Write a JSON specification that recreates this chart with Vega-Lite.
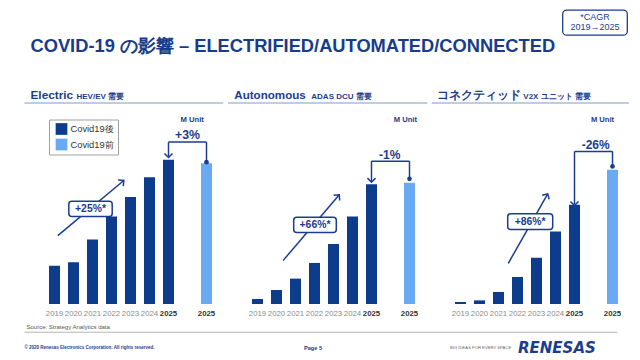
{
  "$schema": "https://vega.github.io/schema/vega-lite/v6.json",
  "background": "white",
  "padding": {"left": 23, "top": 9, "right": 0, "bottom": 0},
  "bounds": "flush",
  "spacing": 32,
  "resolve": {"scale": {"color": "independent"}},
  "config": {
    "view": {"stroke": null},
    "font": "Liberation Sans, Arial, sans-serif",
    "axis": {"gridColor": "#e6e6e6", "gridWidth": 1}
  },
  "hconcat": [
    {
      "width": 171,
      "height": 177,
      "resolve": {"scale": {"x": "independent"}},
      "layer": [
        {
          "data": {"values": [
            {"period": "2019", "series": "Covid19後", "value": 8.67},
            {"period": "2020", "series": "Covid19後", "value": 9.42},
            {"period": "2021", "series": "Covid19後", "value": 14.56},
            {"period": "2022", "series": "Covid19後", "value": 19.77},
            {"period": "2023", "series": "Covid19後", "value": 24.2},
            {"period": "2024", "series": "Covid19後", "value": 28.62},
            {"period": "2025", "series": "Covid19後", "value": 32.6},
            {"period": "2025 (Covid19前)", "series": "Covid19前", "value": 31.8}
          ]},
          "mark": {"type": "bar"},
          "encoding": {
            "x": {"field": "period", "type": "nominal",
              "scale": {"domain": ["2019","2020","2021","2022","2023","2024","2025","gap","2025 (Covid19前)"], "paddingInner": 0.42, "paddingOuter": 0.21},
              "axis": {"title": null, "domain": false, "ticks": false, "labelAngle": 0, "labelPadding": 5, "labelFontSize": 7.8, "labelOverlap": false,
                "labelExpr": "datum.value == 'gap' ? '' : (datum.value == '2025 (Covid19前)' ? '2025' : datum.value)",
                "labelColor": {"condition": {"test": "indexof(datum.value, '2025') == 0", "value": "#333333"}, "value": "#8c8c8c"},
                "labelFontWeight": {"condition": {"test": "indexof(datum.value, '2025') == 0", "value": "bold"}, "value": "normal"}}},
            "y": {"field": "value", "type": "quantitative", "scale": {"domain": [0, 40], "nice": false},
              "axis": {"title": null, "domain": false, "ticks": false, "values": [0, 10, 20, 30, 40], "labelPadding": 7, "labelFontSize": 8, "labelColor": "#9a9a9a",
                "labelExpr": "datum.value == 0 || datum.value == 40 ? datum.label : ''"}},
            "color": {"field": "series", "type": "nominal",
              "scale": {"domain": ["Covid19後", "Covid19前"], "range": ["#0d3c8c", "#6aaaf2"]},
              "legend": {"title": null, "orient": "none", "direction": "vertical", "legendX": 4, "legendY": -7.5,
                "symbolType": "square", "symbolSize": 137, "symbolStrokeWidth": 0, "symbolOffset": 3,
                "labelFontSize": 9.3, "labelColor": "#333333", "labelOffset": 3,
                "strokeColor": "#a0a0a0", "fillColor": "white", "padding": 3.5, "rowPadding": 3.5}}
          }
        },
        {
          "data": {"values": [{}]},
          "layer": [
            {"mark": {"type": "rule", "stroke": "#a9bdd8", "strokeWidth": 1.5},
             "encoding": {"x": {"datum": -1.079, "type": "quantitative", "scale": {"domain": [0, 9], "nice": false, "zero": false}, "axis": null}, "x2": {"datum": 9.379},
               "y": {"datum": 45.42, "type": "quantitative", "scale": {"domain": [0, 40], "nice": false}, "axis": null}}},
            {"mark": {"type": "text", "text": "Electric", "align": "left", "baseline": "alphabetic", "fontSize": 11.8, "fontWeight": "bold", "fill": "#1a3d8f"},
             "encoding": {"x": {"datum": -0.763, "type": "quantitative", "scale": {"domain": [0, 9], "nice": false, "zero": false}, "axis": null},
               "y": {"datum": 46.37, "type": "quantitative", "scale": {"domain": [0, 40], "nice": false}, "axis": null}}},
            {"mark": {"type": "text", "text": "HEV/EV 需要", "align": "left", "baseline": "alphabetic", "fontSize": 8, "fontWeight": "bold", "fill": "#1a3d8f"},
             "encoding": {"x": {"datum": 1.658, "type": "quantitative", "scale": {"domain": [0, 9], "nice": false, "zero": false}, "axis": null},
               "y": {"datum": 46.37, "type": "quantitative", "scale": {"domain": [0, 40], "nice": false}, "axis": null}}},
            {"mark": {"type": "text", "text": "M Unit", "align": "center", "baseline": "middle", "fontSize": 7.6, "fontWeight": "bold", "fill": "#1a3d8f"},
             "encoding": {"x": {"datum": 7.747, "type": "quantitative", "scale": {"domain": [0, 9], "nice": false, "zero": false}, "axis": null},
               "y": {"datum": 41.61, "type": "quantitative", "scale": {"domain": [0, 40], "nice": false}, "axis": null}}},
            {"mark": {"type": "rule", "stroke": "#1a3d8f", "strokeWidth": 1.5},
             "encoding": {"x": {"datum": 0.674, "type": "quantitative", "scale": {"domain": [0, 9], "nice": false, "zero": false}, "axis": null}, "x2": {"datum": 4.147},
               "y": {"datum": 15.46, "type": "quantitative", "scale": {"domain": [0, 40], "nice": false}, "axis": null}, "y2": {"datum": 27.92}}},
            {"mark": {"type": "point", "shape": "M-0.9,0.9L0,0L0.9,0.9", "filled": false, "stroke": "#1a3d8f", "strokeWidth": 1.5, "size": 80, "angle": 50, "opacity": 1},
             "encoding": {"x": {"datum": 4.147, "type": "quantitative", "scale": {"domain": [0, 9], "nice": false, "zero": false}, "axis": null},
               "y": {"datum": 27.92, "type": "quantitative", "scale": {"domain": [0, 40], "nice": false}, "axis": null}}},
            {"mark": {"type": "rect", "fill": "white", "stroke": "#1a3d8f", "strokeWidth": 1.5, "cornerRadius": 3},
             "encoding": {"x": {"datum": 1.253, "type": "quantitative", "scale": {"domain": [0, 9], "nice": false, "zero": false}, "axis": null}, "x2": {"datum": 3.537},
               "y": {"datum": 23.23, "type": "quantitative", "scale": {"domain": [0, 40], "nice": false}, "axis": null}, "y2": {"datum": 19.77}}},
            {"mark": {"type": "text", "text": "+25%*", "align": "center", "baseline": "middle", "fontSize": 10.4, "fontWeight": "bold", "fill": "#1a3d8f"},
             "encoding": {"x": {"datum": 2.395, "type": "quantitative", "scale": {"domain": [0, 9], "nice": false, "zero": false}, "axis": null},
               "y": {"datum": 21.51, "type": "quantitative", "scale": {"domain": [0, 40], "nice": false}, "axis": null}}},
            {"mark": {"type": "rule", "stroke": "#1a3d8f", "strokeWidth": 1.5},
             "encoding": {"x": {"datum": 6.5, "type": "quantitative", "scale": {"domain": [0, 9], "nice": false, "zero": false}, "axis": null}, "x2": {"datum": 8.5},
               "y": {"datum": 36.59, "type": "quantitative", "scale": {"domain": [0, 40], "nice": false}, "axis": null}}},
            {"mark": {"type": "rule", "stroke": "#1a3d8f", "strokeWidth": 1.5},
             "encoding": {"x": {"datum": 6.5, "type": "quantitative", "scale": {"domain": [0, 9], "nice": false, "zero": false}, "axis": null},
               "y": {"datum": 36.59, "type": "quantitative", "scale": {"domain": [0, 40], "nice": false}, "axis": null}, "y2": {"datum": 33.3}}},
            {"mark": {"type": "rule", "stroke": "#1a3d8f", "strokeWidth": 1.5},
             "encoding": {"x": {"datum": 8.5, "type": "quantitative", "scale": {"domain": [0, 9], "nice": false, "zero": false}, "axis": null},
               "y": {"datum": 36.59, "type": "quantitative", "scale": {"domain": [0, 40], "nice": false}, "axis": null}, "y2": {"datum": 32.06}}},
            {"mark": {"type": "point", "shape": "M-0.9,0.9L0,0L0.9,0.9", "filled": false, "stroke": "#1a3d8f", "strokeWidth": 1.5, "size": 80, "angle": 180, "opacity": 1},
             "encoding": {"x": {"datum": 6.5, "type": "quantitative", "scale": {"domain": [0, 9], "nice": false, "zero": false}, "axis": null},
               "y": {"datum": 33.12, "type": "quantitative", "scale": {"domain": [0, 40], "nice": false}, "axis": null}}},
            {"mark": {"type": "point", "shape": "circle", "filled": true, "fill": "#1a3d8f", "size": 22, "opacity": 1},
             "encoding": {"x": {"datum": 8.5, "type": "quantitative", "scale": {"domain": [0, 9], "nice": false, "zero": false}, "axis": null},
               "y": {"datum": 32.06, "type": "quantitative", "scale": {"domain": [0, 40], "nice": false}, "axis": null}}},
            {"mark": {"type": "text", "text": "+3%", "align": "center", "baseline": "middle", "fontSize": 12.3, "fontWeight": "bold", "fill": "#1a3d8f"},
             "encoding": {"x": {"datum": 7.5, "type": "quantitative", "scale": {"domain": [0, 9], "nice": false, "zero": false}, "axis": null},
               "y": {"datum": 38.1, "type": "quantitative", "scale": {"domain": [0, 40], "nice": false}, "axis": null}}},
            {"mark": {"type": "text", "text": "COVID-19 の影響 – ELECTRIFIED/AUTOMATED/CONNECTED", "align": "left", "baseline": "alphabetic", "fontSize": 18.3, "fontWeight": "bold", "fill": "#173c8c"},
             "encoding": {"x": {"datum": -0.763, "type": "quantitative", "scale": {"domain": [0, 9], "nice": false, "zero": false}, "axis": null},
               "y": {"datum": 56.96, "type": "quantitative", "scale": {"domain": [0, 40], "nice": false}, "axis": null}}},
            {"mark": {"type": "text", "text": "Source: Strategy Analytics data", "align": "left", "baseline": "middle", "fontSize": 6, "fill": "#555555"},
             "encoding": {"x": {"datum": -0.974, "type": "quantitative", "scale": {"domain": [0, 9], "nice": false, "zero": false}, "axis": null},
               "y": {"datum": -5.3, "type": "quantitative", "scale": {"domain": [0, 40], "nice": false}, "axis": null}}},
            {"mark": {"type": "rule", "stroke": "#b5b5b5", "strokeWidth": 1},
             "encoding": {"x": {"datum": -1.079, "type": "quantitative", "scale": {"domain": [0, 9], "nice": false, "zero": false}, "axis": null}, "x2": {"datum": 30.13},
               "y": {"datum": -6.38, "type": "quantitative", "scale": {"domain": [0, 40], "nice": false}, "axis": null}}},
            {"mark": {"type": "text", "text": "© 2020 Renesas Electronics Corporation. All rights reserved.", "align": "left", "baseline": "middle", "fontSize": 4.5, "fontWeight": "bold", "fill": "#1a3d8f"},
             "encoding": {"x": {"datum": -1.079, "type": "quantitative", "scale": {"domain": [0, 9], "nice": false, "zero": false}, "axis": null},
               "y": {"datum": -9.96, "type": "quantitative", "scale": {"domain": [0, 40], "nice": false}, "axis": null}}}
          ]
        }
      ]
    },
    {
      "width": 171,
      "height": 177,
      "resolve": {"scale": {"x": "independent"}},
      "layer": [
        {
          "data": {"values": [
            {"period": "2019", "series": "Covid19後", "value": 0.42},
            {"period": "2020", "series": "Covid19後", "value": 1.19},
            {"period": "2021", "series": "Covid19後", "value": 2.15},
            {"period": "2022", "series": "Covid19後", "value": 3.48},
            {"period": "2023", "series": "Covid19後", "value": 5.09},
            {"period": "2024", "series": "Covid19後", "value": 7.41},
            {"period": "2025", "series": "Covid19後", "value": 10.15},
            {"period": "2025 (Covid19前)", "series": "Covid19前", "value": 10.27}
          ]},
          "mark": {"type": "bar"},
          "encoding": {
            "x": {"field": "period", "type": "nominal",
              "scale": {"domain": ["2019","2020","2021","2022","2023","2024","2025","gap","2025 (Covid19前)"], "paddingInner": 0.42, "paddingOuter": 0.21},
              "axis": {"title": null, "domain": false, "ticks": false, "labelAngle": 0, "labelPadding": 5, "labelFontSize": 7.8, "labelOverlap": false,
                "labelExpr": "datum.value == 'gap' ? '' : (datum.value == '2025 (Covid19前)' ? '2025' : datum.value)",
                "labelColor": {"condition": {"test": "indexof(datum.value, '2025') == 0", "value": "#333333"}, "value": "#8c8c8c"},
                "labelFontWeight": {"condition": {"test": "indexof(datum.value, '2025') == 0", "value": "bold"}, "value": "normal"}}},
            "y": {"field": "value", "type": "quantitative", "scale": {"domain": [0, 15], "nice": false},
              "axis": {"title": null, "domain": false, "ticks": false, "values": [0, 5, 10, 15], "labelPadding": 7, "labelFontSize": 8, "labelColor": "#9a9a9a",
                "labelExpr": "datum.value == 0 || datum.value == 15 ? datum.label : ''"}},
            "color": {"field": "series", "type": "nominal",
              "scale": {"domain": ["Covid19後", "Covid19前"], "range": ["#0d3c8c", "#6aaaf2"]}, "legend": null}
          }
        },
        {
          "data": {"values": [{}]},
          "layer": [
            {"mark": {"type": "rule", "stroke": "#a9bdd8", "strokeWidth": 1.5},
             "encoding": {"x": {"datum": -1.053, "type": "quantitative", "scale": {"domain": [0, 9], "nice": false, "zero": false}, "axis": null}, "x2": {"datum": 9.437},
               "y": {"datum": 17.03, "type": "quantitative", "scale": {"domain": [0, 15], "nice": false}, "axis": null}}},
            {"mark": {"type": "text", "text": "Autonomous", "align": "left", "baseline": "alphabetic", "fontSize": 11.6, "fontWeight": "bold", "fill": "#1a3d8f"},
             "encoding": {"x": {"datum": -0.721, "type": "quantitative", "scale": {"domain": [0, 9], "nice": false, "zero": false}, "axis": null},
               "y": {"datum": 17.39, "type": "quantitative", "scale": {"domain": [0, 15], "nice": false}, "axis": null}}},
            {"mark": {"type": "text", "text": "ADAS DCU 需要", "align": "left", "baseline": "alphabetic", "fontSize": 8, "fontWeight": "bold", "fill": "#1a3d8f"},
             "encoding": {"x": {"datum": 3.332, "type": "quantitative", "scale": {"domain": [0, 9], "nice": false, "zero": false}, "axis": null},
               "y": {"datum": 17.39, "type": "quantitative", "scale": {"domain": [0, 15], "nice": false}, "axis": null}}},
            {"mark": {"type": "text", "text": "M Unit", "align": "center", "baseline": "middle", "fontSize": 7.6, "fontWeight": "bold", "fill": "#1a3d8f"},
             "encoding": {"x": {"datum": 8.279, "type": "quantitative", "scale": {"domain": [0, 9], "nice": false, "zero": false}, "axis": null},
               "y": {"datum": 15.61, "type": "quantitative", "scale": {"domain": [0, 15], "nice": false}, "axis": null}}},
            {"mark": {"type": "rule", "stroke": "#1a3d8f", "strokeWidth": 1.5},
             "encoding": {"x": {"datum": 1.842, "type": "quantitative", "scale": {"domain": [0, 9], "nice": false, "zero": false}, "axis": null}, "x2": {"datum": 4.805},
               "y": {"datum": 3.676, "type": "quantitative", "scale": {"domain": [0, 15], "nice": false}, "axis": null}, "y2": {"datum": 9.255}}},
            {"mark": {"type": "point", "shape": "M-0.9,0.9L0,0L0.9,0.9", "filled": false, "stroke": "#1a3d8f", "strokeWidth": 1.5, "size": 80, "angle": 41, "opacity": 1},
             "encoding": {"x": {"datum": 4.805, "type": "quantitative", "scale": {"domain": [0, 9], "nice": false, "zero": false}, "axis": null},
               "y": {"datum": 9.255, "type": "quantitative", "scale": {"domain": [0, 15], "nice": false}, "axis": null}}},
            {"mark": {"type": "rect", "fill": "white", "stroke": "#1a3d8f", "strokeWidth": 1.5, "cornerRadius": 3},
             "encoding": {"x": {"datum": 2.405, "type": "quantitative", "scale": {"domain": [0, 9], "nice": false, "zero": false}, "axis": null}, "x2": {"datum": 4.647},
               "y": {"datum": 7.353, "type": "quantitative", "scale": {"domain": [0, 15], "nice": false}, "axis": null}, "y2": {"datum": 6.054}}},
            {"mark": {"type": "text", "text": "+66%*", "align": "center", "baseline": "middle", "fontSize": 10.4, "fontWeight": "bold", "fill": "#1a3d8f"},
             "encoding": {"x": {"datum": 3.526, "type": "quantitative", "scale": {"domain": [0, 9], "nice": false, "zero": false}, "axis": null},
               "y": {"datum": 6.707, "type": "quantitative", "scale": {"domain": [0, 15], "nice": false}, "axis": null}}},
            {"mark": {"type": "rule", "stroke": "#1a3d8f", "strokeWidth": 1.5},
             "encoding": {"x": {"datum": 6.5, "type": "quantitative", "scale": {"domain": [0, 9], "nice": false, "zero": false}, "axis": null}, "x2": {"datum": 8.5},
               "y": {"datum": 12.107, "type": "quantitative", "scale": {"domain": [0, 15], "nice": false}, "axis": null}}},
            {"mark": {"type": "rule", "stroke": "#1a3d8f", "strokeWidth": 1.5},
             "encoding": {"x": {"datum": 6.5, "type": "quantitative", "scale": {"domain": [0, 9], "nice": false, "zero": false}, "axis": null},
               "y": {"datum": 12.107, "type": "quantitative", "scale": {"domain": [0, 15], "nice": false}, "axis": null}, "y2": {"datum": 10.4}}},
            {"mark": {"type": "rule", "stroke": "#1a3d8f", "strokeWidth": 1.5},
             "encoding": {"x": {"datum": 8.5, "type": "quantitative", "scale": {"domain": [0, 9], "nice": false, "zero": false}, "axis": null},
               "y": {"datum": 12.107, "type": "quantitative", "scale": {"domain": [0, 15], "nice": false}, "axis": null}, "y2": {"datum": 10.61}}},
            {"mark": {"type": "point", "shape": "M-0.9,0.9L0,0L0.9,0.9", "filled": false, "stroke": "#1a3d8f", "strokeWidth": 1.5, "size": 80, "angle": 180, "opacity": 1},
             "encoding": {"x": {"datum": 6.5, "type": "quantitative", "scale": {"domain": [0, 9], "nice": false, "zero": false}, "axis": null},
               "y": {"datum": 10.324, "type": "quantitative", "scale": {"domain": [0, 15], "nice": false}, "axis": null}}},
            {"mark": {"type": "point", "shape": "circle", "filled": true, "fill": "#1a3d8f", "size": 22, "opacity": 1},
             "encoding": {"x": {"datum": 8.5, "type": "quantitative", "scale": {"domain": [0, 9], "nice": false, "zero": false}, "axis": null},
               "y": {"datum": 10.61, "type": "quantitative", "scale": {"domain": [0, 15], "nice": false}, "axis": null}}},
            {"mark": {"type": "text", "text": "-1%", "align": "center", "baseline": "middle", "fontSize": 12, "fontWeight": "bold", "fill": "#1a3d8f"},
             "encoding": {"x": {"datum": 7.458, "type": "quantitative", "scale": {"domain": [0, 9], "nice": false, "zero": false}, "axis": null},
               "y": {"datum": 12.59, "type": "quantitative", "scale": {"domain": [0, 15], "nice": false}, "axis": null}}},
            {"mark": {"type": "text", "text": "Page 5", "align": "center", "baseline": "middle", "fontSize": 5.6, "fontWeight": "bold", "fill": "#1a3d8f"},
             "encoding": {"x": {"datum": 3.421, "type": "quantitative", "scale": {"domain": [0, 9], "nice": false, "zero": false}, "axis": null},
               "y": {"datum": -3.736, "type": "quantitative", "scale": {"domain": [0, 15], "nice": false}, "axis": null}}}
          ]
        }
      ]
    },
    {
      "width": 171,
      "height": 177,
      "resolve": {"scale": {"x": "independent"}},
      "layer": [
        {
          "data": {"values": [
            {"period": "2019", "series": "Covid19後", "value": 0.45},
            {"period": "2020", "series": "Covid19後", "value": 0.82},
            {"period": "2021", "series": "Covid19後", "value": 2.72},
            {"period": "2022", "series": "Covid19後", "value": 6.11},
            {"period": "2023", "series": "Covid19後", "value": 10.48},
            {"period": "2024", "series": "Covid19後", "value": 16.37},
            {"period": "2025", "series": "Covid19後", "value": 22.41},
            {"period": "2025 (Covid19前)", "series": "Covid19前", "value": 30.34}
          ]},
          "mark": {"type": "bar"},
          "encoding": {
            "x": {"field": "period", "type": "nominal",
              "scale": {"domain": ["2019","2020","2021","2022","2023","2024","2025","gap","2025 (Covid19前)"], "paddingInner": 0.42, "paddingOuter": 0.21},
              "axis": {"title": null, "domain": false, "ticks": false, "labelAngle": 0, "labelPadding": 5, "labelFontSize": 7.8, "labelOverlap": false,
                "labelExpr": "datum.value == 'gap' ? '' : (datum.value == '2025 (Covid19前)' ? '2025' : datum.value)",
                "labelColor": {"condition": {"test": "indexof(datum.value, '2025') == 0", "value": "#333333"}, "value": "#8c8c8c"},
                "labelFontWeight": {"condition": {"test": "indexof(datum.value, '2025') == 0", "value": "bold"}, "value": "normal"}}},
            "y": {"field": "value", "type": "quantitative", "scale": {"domain": [0, 40], "nice": false},
              "axis": {"title": null, "domain": false, "ticks": false, "values": [0, 10, 20, 30, 40], "labelPadding": 7, "labelFontSize": 8, "labelColor": "#9a9a9a",
                "labelExpr": "datum.value == 0 || datum.value == 40 ? datum.label : ''"}},
            "color": {"field": "series", "type": "nominal",
              "scale": {"domain": ["Covid19後", "Covid19前"], "range": ["#0d3c8c", "#6aaaf2"]}, "legend": null}
          }
        },
        {
          "data": {"values": [{}]},
          "layer": [
            {"mark": {"type": "rule", "stroke": "#a9bdd8", "strokeWidth": 1.5},
             "encoding": {"x": {"datum": -1.016, "type": "quantitative", "scale": {"domain": [0, 9], "nice": false, "zero": false}, "axis": null}, "x2": {"datum": 9.368},
               "y": {"datum": 45.42, "type": "quantitative", "scale": {"domain": [0, 40], "nice": false}, "axis": null}}},
            {"mark": {"type": "text", "text": "コネクティッド", "align": "left", "baseline": "alphabetic", "fontSize": 12, "fontWeight": "bold", "fill": "#1a3d8f"},
             "encoding": {"x": {"datum": -0.753, "type": "quantitative", "scale": {"domain": [0, 9], "nice": false, "zero": false}, "axis": null},
               "y": {"datum": 46.37, "type": "quantitative", "scale": {"domain": [0, 40], "nice": false}, "axis": null}}},
            {"mark": {"type": "text", "text": "V2X ユニット 需要", "align": "left", "baseline": "alphabetic", "fontSize": 8, "fontWeight": "bold", "fill": "#1a3d8f"},
             "encoding": {"x": {"datum": 3.805, "type": "quantitative", "scale": {"domain": [0, 9], "nice": false, "zero": false}, "axis": null},
               "y": {"datum": 46.37, "type": "quantitative", "scale": {"domain": [0, 40], "nice": false}, "axis": null}}},
            {"mark": {"type": "text", "text": "M Unit", "align": "center", "baseline": "middle", "fontSize": 7.6, "fontWeight": "bold", "fill": "#1a3d8f"},
             "encoding": {"x": {"datum": 7.974, "type": "quantitative", "scale": {"domain": [0, 9], "nice": false, "zero": false}, "axis": null},
               "y": {"datum": 41.61, "type": "quantitative", "scale": {"domain": [0, 40], "nice": false}, "axis": null}}},
            {"mark": {"type": "rule", "stroke": "#1a3d8f", "strokeWidth": 1.5},
             "encoding": {"x": {"datum": 3.016, "type": "quantitative", "scale": {"domain": [0, 9], "nice": false, "zero": false}, "axis": null}, "x2": {"datum": 5.089},
               "y": {"datum": 9.19, "type": "quantitative", "scale": {"domain": [0, 40], "nice": false}, "axis": null}, "y2": {"datum": 24.9}}},
            {"mark": {"type": "point", "shape": "M-0.9,0.9L0,0L0.9,0.9", "filled": false, "stroke": "#1a3d8f", "strokeWidth": 1.5, "size": 80, "angle": 30, "opacity": 1},
             "encoding": {"x": {"datum": 5.089, "type": "quantitative", "scale": {"domain": [0, 9], "nice": false, "zero": false}, "axis": null},
               "y": {"datum": 24.9, "type": "quantitative", "scale": {"domain": [0, 40], "nice": false}, "axis": null}}},
            {"mark": {"type": "rect", "fill": "white", "stroke": "#1a3d8f", "strokeWidth": 1.5, "cornerRadius": 3},
             "encoding": {"x": {"datum": 2.984, "type": "quantitative", "scale": {"domain": [0, 9], "nice": false, "zero": false}, "axis": null}, "x2": {"datum": 5.353},
               "y": {"datum": 20.38, "type": "quantitative", "scale": {"domain": [0, 40], "nice": false}, "axis": null}, "y2": {"datum": 16.82}}},
            {"mark": {"type": "text", "text": "+86%*", "align": "center", "baseline": "middle", "fontSize": 10.4, "fontWeight": "bold", "fill": "#1a3d8f"},
             "encoding": {"x": {"datum": 4.168, "type": "quantitative", "scale": {"domain": [0, 9], "nice": false, "zero": false}, "axis": null},
               "y": {"datum": 18.59, "type": "quantitative", "scale": {"domain": [0, 40], "nice": false}, "axis": null}}},
            {"mark": {"type": "rule", "stroke": "#1a3d8f", "strokeWidth": 1.5},
             "encoding": {"x": {"datum": 6.5, "type": "quantitative", "scale": {"domain": [0, 9], "nice": false, "zero": false}, "axis": null}, "x2": {"datum": 8.5},
               "y": {"datum": 34.48, "type": "quantitative", "scale": {"domain": [0, 40], "nice": false}, "axis": null}}},
            {"mark": {"type": "rule", "stroke": "#1a3d8f", "strokeWidth": 1.5},
             "encoding": {"x": {"datum": 6.5, "type": "quantitative", "scale": {"domain": [0, 9], "nice": false, "zero": false}, "axis": null},
               "y": {"datum": 34.48, "type": "quantitative", "scale": {"domain": [0, 40], "nice": false}, "axis": null}, "y2": {"datum": 22.5}}},
            {"mark": {"type": "rule", "stroke": "#1a3d8f", "strokeWidth": 1.5},
             "encoding": {"x": {"datum": 8.5, "type": "quantitative", "scale": {"domain": [0, 9], "nice": false, "zero": false}, "axis": null},
               "y": {"datum": 34.48, "type": "quantitative", "scale": {"domain": [0, 40], "nice": false}, "axis": null}, "y2": {"datum": 31.09}}},
            {"mark": {"type": "point", "shape": "M-0.9,0.9L0,0L0.9,0.9", "filled": false, "stroke": "#1a3d8f", "strokeWidth": 1.5, "size": 80, "angle": 180, "opacity": 1},
             "encoding": {"x": {"datum": 6.5, "type": "quantitative", "scale": {"domain": [0, 9], "nice": false, "zero": false}, "axis": null},
               "y": {"datum": 22.26, "type": "quantitative", "scale": {"domain": [0, 40], "nice": false}, "axis": null}}},
            {"mark": {"type": "point", "shape": "circle", "filled": true, "fill": "#1a3d8f", "size": 22, "opacity": 1},
             "encoding": {"x": {"datum": 8.5, "type": "quantitative", "scale": {"domain": [0, 9], "nice": false, "zero": false}, "axis": null},
               "y": {"datum": 31.09, "type": "quantitative", "scale": {"domain": [0, 40], "nice": false}, "axis": null}}},
            {"mark": {"type": "text", "text": "-26%", "align": "center", "baseline": "middle", "fontSize": 12, "fontWeight": "bold", "fill": "#1a3d8f"},
             "encoding": {"x": {"datum": 7.616, "type": "quantitative", "scale": {"domain": [0, 9], "nice": false, "zero": false}, "axis": null},
               "y": {"datum": 35.84, "type": "quantitative", "scale": {"domain": [0, 40], "nice": false}, "axis": null}}},
            {"mark": {"type": "rect", "fill": "white", "stroke": "#1a3d8f", "strokeWidth": 1.3, "cornerRadius": 4},
             "encoding": {"x": {"datum": 5.879, "type": "quantitative", "scale": {"domain": [0, 9], "nice": false, "zero": false}, "axis": null}, "x2": {"datum": 9.279},
               "y": {"datum": 66.41, "type": "quantitative", "scale": {"domain": [0, 40], "nice": false}, "axis": null}, "y2": {"datum": 60.75}}},
            {"mark": {"type": "text", "text": "*CAGR", "align": "center", "baseline": "middle", "fontSize": 9, "fill": "#1a3d8f"},
             "encoding": {"x": {"datum": 7.579, "type": "quantitative", "scale": {"domain": [0, 9], "nice": false, "zero": false}, "axis": null},
               "y": {"datum": 64.89, "type": "quantitative", "scale": {"domain": [0, 40], "nice": false}, "axis": null}}},
            {"mark": {"type": "text", "text": "2019→2025", "align": "center", "baseline": "middle", "fontSize": 9, "fill": "#1a3d8f"},
             "encoding": {"x": {"datum": 7.579, "type": "quantitative", "scale": {"domain": [0, 9], "nice": false, "zero": false}, "axis": null},
               "y": {"datum": 62.62, "type": "quantitative", "scale": {"domain": [0, 40], "nice": false}, "axis": null}}},
            {"mark": {"type": "text", "text": "BIG IDEAS FOR EVERY SPACE", "align": "left", "baseline": "middle", "fontSize": 4.2, "fill": "#666666"},
             "encoding": {"x": {"datum": -0.053, "type": "quantitative", "scale": {"domain": [0, 9], "nice": false, "zero": false}, "axis": null},
               "y": {"datum": -9.89, "type": "quantitative", "scale": {"domain": [0, 40], "nice": false}, "axis": null}}},
            {"mark": {"type": "text", "text": "RENESAS", "align": "left", "baseline": "middle", "fontSize": 15, "fontWeight": "bold", "fontStyle": "italic", "font": "DejaVu Sans", "fill": "#1a3d8f"},
             "encoding": {"x": {"datum": 3.526, "type": "quantitative", "scale": {"domain": [0, 9], "nice": false, "zero": false}, "axis": null},
               "y": {"datum": -9.89, "type": "quantitative", "scale": {"domain": [0, 40], "nice": false}, "axis": null}}}
          ]
        }
      ]
    }
  ]
}
